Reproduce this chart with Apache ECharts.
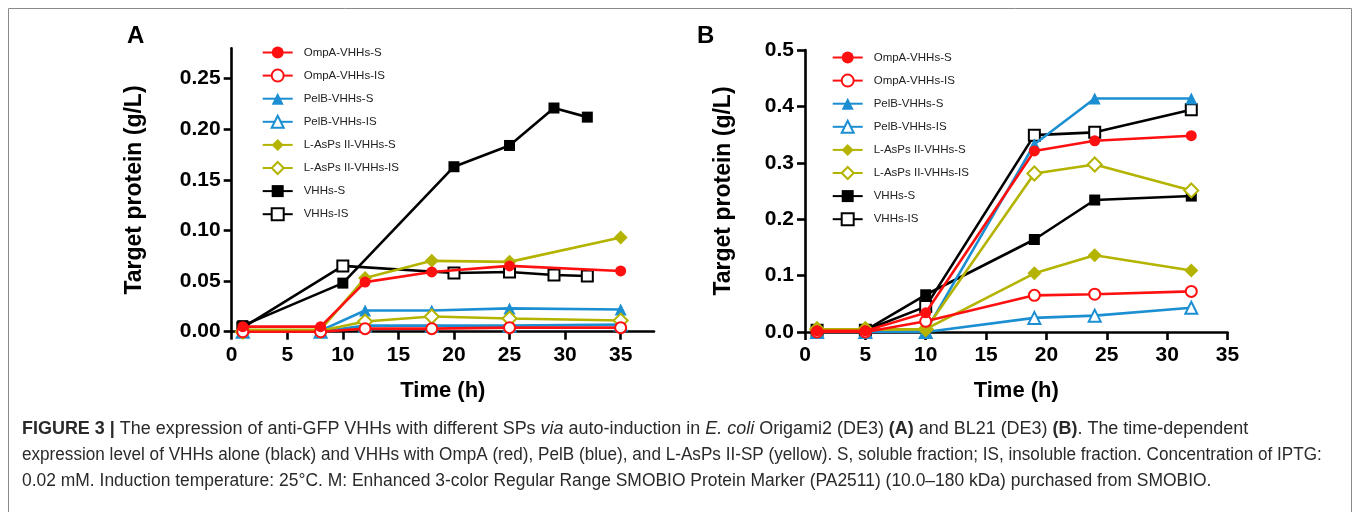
<!DOCTYPE html>
<html>
<head>
<meta charset="utf-8">
<script src="https://cdn.jsdelivr.net/npm/echarts@6/dist/echarts.min.js"></script>
<style>
html,body{margin:0;padding:0;background:#fff;}
#c{width:1354px;height:512px;}
</style>
</head>
<body>
<div id="c"></div>
<script>
// ---------- data ----------
const seriesNames = ['OmpA-VHHs-S','OmpA-VHHs-IS','PelB-VHHs-S','PelB-VHHs-IS','L-AsPs II-VHHs-S','L-AsPs II-VHHs-IS','VHHs-S','VHHs-IS'];

// Panel A (Origami2 (DE3))
const timeA_SP  = [1, 8, 12, 18, 25, 35];
const timeA_VHH = [1, 10, 20, 25, 29, 32];
const A_OmpA_S  = [0.005, 0.005, 0.049, 0.059, 0.065, 0.060];
const A_OmpA_IS = [0.000, 0.000, 0.003, 0.003, 0.004, 0.004];
const A_PelB_S  = [0.001, 0.001, 0.021, 0.021, 0.023, 0.022];
const A_PelB_IS = [0.000, 0.000, 0.006, 0.006, 0.006, 0.007];
const A_LAsPs_S = [0.002, 0.002, 0.053, 0.070, 0.069, 0.093];
const A_LAsPs_IS= [0.000, 0.001, 0.010, 0.015, 0.013, 0.011];
const A_VHH_S   = [0.006, 0.048, 0.163, 0.184, 0.221, 0.212];
const A_VHH_IS  = [0.004, 0.065, 0.058, 0.059, 0.056, 0.055];

// Panel B (BL21 (DE3))
const timeB = [1, 5, 10, 19, 24, 32];
const B_OmpA_S  = [0.002, 0.002, 0.034, 0.321, 0.339, 0.348];
const B_OmpA_IS = [0.000, 0.000, 0.019, 0.065, 0.067, 0.072];
const B_PelB_S  = [0.001, 0.001, 0.001, 0.333, 0.414, 0.414];
const B_PelB_IS = [0.000, 0.000, 0.000, 0.025, 0.029, 0.043];
const B_LAsPs_S = [0.004, 0.004, 0.005, 0.104, 0.136, 0.109];
const B_LAsPs_IS= [0.005, 0.005, 0.005, 0.281, 0.297, 0.251];
const B_VHH_S   = [0.003, 0.003, 0.066, 0.164, 0.234, 0.241];
const B_VHH_IS  = [0.003, 0.003, 0.045, 0.349, 0.354, 0.394];

const xTicksA = [0, 5, 10, 15, 20, 25, 30, 35];
const yTicksA = [0, 0.05, 0.10, 0.15, 0.20, 0.25];
const xTicksB = [0, 5, 10, 15, 20, 25, 30, 35];
const yTicksB = [0, 0.1, 0.2, 0.3, 0.4, 0.5];

const captionLines = [
  '{b|FIGURE 3 |} The expression of anti-GFP VHHs with different SPs {i|via} auto-induction in {i|E. coli} Origami2 (DE3) {b|(A)} and BL21 (DE3) {b|(B)}. The time-dependent',
  'expression level of VHHs alone (black) and VHHs with OmpA (red), PelB (blue), and L-AsPs II-SP (yellow). S, soluble fraction; IS, insoluble fraction. Concentration of IPTG:',
  '0.02 mM. Induction temperature: 25°C. M: Enhanced 3-color Regular Range SMOBIO Protein Marker (PA2511) (10.0–180 kDa) purchased from SMOBIO.'
];
const captionScaleX = [1.026, 0.979, 0.997];

// ---------- styles ----------
const RED = '#ff1010', BLUE = '#1b8fd2', YEL = '#b3b300', BLK = '#000000';
const FONT = '"Liberation Sans", Arial, Helvetica, sans-serif';
const styleOf = {
  'OmpA-VHHs-S':       {c: RED,  sym: 'circle',        size: 11, z: 9},
  'OmpA-VHHs-IS':      {c: RED,  sym: 'emptyCircle',   size: 11, z: 8},
  'PelB-VHHs-S':       {c: BLUE, sym: 'triangle',      size: 12, z: 5},
  'PelB-VHHs-IS':      {c: BLUE, sym: 'emptyTriangle', size: 12, z: 4},
  'L-AsPs II-VHHs-S':  {c: YEL,  sym: 'diamond',       size: 14, z: 7},
  'L-AsPs II-VHHs-IS': {c: YEL,  sym: 'emptyDiamond',  size: 14, z: 6},
  'VHHs-S':            {c: BLK,  sym: 'rect',          size: 11, z: 3},
  'VHHs-IS':           {c: BLK,  sym: 'emptyRect',     size: 11, z: 2}
};

function zip(xs, ys){ return xs.map((x,i)=>[x, ys[i]]); }
function mkSeries(name, xs, ys, idx){
  const s = styleOf[name];
  const empty = s.sym.indexOf('empty') === 0;
  return {
    name, type: 'line', xAxisIndex: idx, yAxisIndex: idx,
    data: zip(xs, ys),
    symbol: s.sym, symbolSize: s.size, showAllSymbol: true,
    z: s.z,
    lineStyle: {color: s.c, width: 2.6},
    itemStyle: {color: s.c, borderColor: s.c, borderWidth: empty ? 1.6 : 0},
    emphasis: {disabled: true},
    animation: false
  };
}

const series = [
  mkSeries('OmpA-VHHs-S', timeA_SP, A_OmpA_S, 0),
  mkSeries('OmpA-VHHs-IS', timeA_SP, A_OmpA_IS, 0),
  mkSeries('PelB-VHHs-S', timeA_SP, A_PelB_S, 0),
  mkSeries('PelB-VHHs-IS', timeA_SP, A_PelB_IS, 0),
  mkSeries('L-AsPs II-VHHs-S', timeA_SP, A_LAsPs_S, 0),
  mkSeries('L-AsPs II-VHHs-IS', timeA_SP, A_LAsPs_IS, 0),
  mkSeries('VHHs-S', timeA_VHH, A_VHH_S, 0),
  mkSeries('VHHs-IS', timeA_VHH, A_VHH_IS, 0),
  mkSeries('OmpA-VHHs-S', timeB, B_OmpA_S, 1),
  mkSeries('OmpA-VHHs-IS', timeB, B_OmpA_IS, 1),
  mkSeries('PelB-VHHs-S', timeB, B_PelB_S, 1),
  mkSeries('PelB-VHHs-IS', timeB, B_PelB_IS, 1),
  mkSeries('L-AsPs II-VHHs-S', timeB, B_LAsPs_S, 1),
  mkSeries('L-AsPs II-VHHs-IS', timeB, B_LAsPs_IS, 1),
  mkSeries('VHHs-S', timeB, B_VHH_S, 1),
  mkSeries('VHHs-IS', timeB, B_VHH_IS, 1)
];

const axisLineStyle = {show: true, lineStyle: {color: '#000', width: 2.6}};
const tickStyle = (vals) => ({show: true, inside: false, length: 8, lineStyle: {color: '#000', width: 2.6}, customValues: vals});
const labelBase = {color: '#000', fontFamily: FONT, fontWeight: 'bold', fontSize: 21};

function xAxis(idx, max, ticks){
  return {
    type: 'value', gridIndex: idx, min: 0, max: max,
    name: 'Time (h)', nameLocation: 'middle', nameGap: 48,
    nameTextStyle: {color: '#000', fontFamily: FONT, fontWeight: 'bold', fontSize: 22},
    axisLine: axisLineStyle, axisTick: tickStyle(ticks),
    axisLabel: Object.assign({margin: 13, customValues: ticks, formatter: v => String(v)}, labelBase),
    splitLine: {show: false}
  };
}
function yAxis(idx, max, ticks, dec, gap){
  return {
    type: 'value', gridIndex: idx, min: 0, max: max,
    name: 'Target protein (g/L)', nameLocation: 'middle', nameGap: gap, nameRotate: 90,
    nameTextStyle: {color: '#000', fontFamily: FONT, fontWeight: 'bold', fontSize: 23},
    axisLine: axisLineStyle, axisTick: tickStyle(ticks),
    axisLabel: Object.assign({margin: 11, customValues: ticks, formatter: v => v.toFixed(dec)}, labelBase),
    splitLine: {show: false}
  };
}

function legend(left, top){
  return {
    orient: 'vertical', left: left, top: top,
    data: seriesNames,
    itemWidth: 30, itemHeight: 15, itemGap: 10.1,
    selectedMode: false,
    textStyle: {color: '#222', fontFamily: FONT, fontSize: 11.5, padding: [0, 0, 0, 6]}
  };
}

const option = {
  backgroundColor: '#fff',
  animation: false,
  grid: [
    {left: 231.7, right: 1354 - 654, top: 48.3, bottom: 512 - 331.7, containLabel: false},
    {left: 805, right: 1354 - 1227.5, top: 50, bottom: 512 - 332, containLabel: false}
  ],
  xAxis: [xAxis(0, 38, xTicksA), xAxis(1, 35, xTicksB)],
  yAxis: [yAxis(0, 0.28, yTicksA, 2, 86), yAxis(1, 0.5, yTicksB, 1, 70)],
  legend: [legend(256.7, 41.5), legend(826.7, 46.5)],
  series: series,
  graphic: [
    {type: 'rect', shape: {x: 8.5, y: 8.5, width: 1343, height: 520}, style: {fill: 'none', stroke: '#8a8a8a', lineWidth: 1}, silent: true},
    {type: 'text', left: 127, top: 24, style: {text: 'A', fill: '#000', font: 'bold 24px ' + FONT}},
    {type: 'text', left: 697, top: 24, style: {text: 'B', fill: '#000', font: 'bold 24px ' + FONT}}
  ].concat(captionLines.map((t, i) => ({
    type: 'text', x: 22, y: 420 + i * 26, scaleX: captionScaleX[i],
    style: {
      text: t, fill: '#2a2a2a', font: '17.5px ' + FONT,
      rich: {
        b: {fontWeight: 'bold', fontSize: 17.5, fontFamily: FONT, fill: '#2a2a2a'},
        i: {fontStyle: 'italic', fontSize: 17.5, fontFamily: FONT, fill: '#2a2a2a'}
      }
    }
  })))
};

const chart = echarts.init(document.getElementById('c'), null, {renderer: 'canvas'});
chart.setOption(option);
</script>
</body>
</html>
